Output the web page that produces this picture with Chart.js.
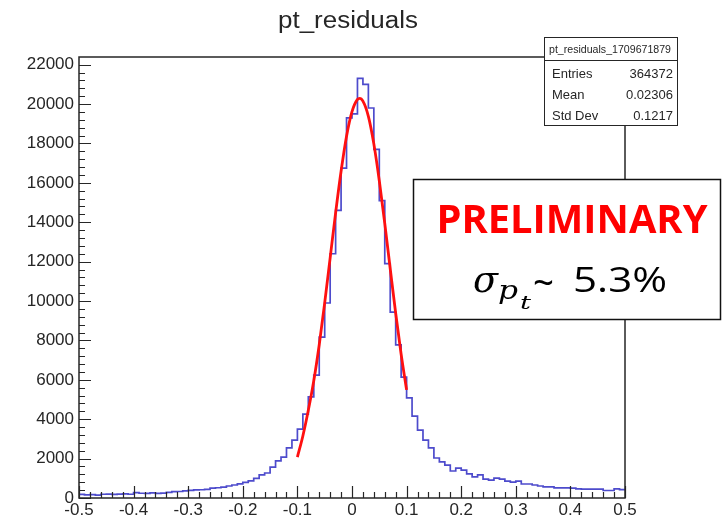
<!DOCTYPE html>
<html>
<head>
<meta charset="utf-8">
<script src="https://cdn.jsdelivr.net/npm/chart.js@4.4.1/dist/chart.umd.min.js"></script>
<style>
  html, body { margin: 0; padding: 0; background: #fff; }
  #wrap { width: 722px; height: 525px; }
</style>
</head>
<body>
<div id="wrap"><canvas id="c" width="722" height="525"></canvas></div>
<script>
'use strict';

// Histograma pt_residuals: 100 bins de 0.01 entre -0.5 y 0.5
const X_MIN = -0.5;
const X_MAX = 0.5;
const BIN_W = 0.01;
const counts = [
  180, 160, 170, 150, 190, 200, 180, 200, 210, 190,
  270, 240, 230, 260, 230, 250, 290, 320, 330, 360,
  390, 410, 420, 440, 500, 520, 550, 610, 660, 720,
  790, 870, 1000, 1170, 1270, 1570, 1880, 2080, 2540, 2940,
  3500, 4260, 5130, 6240, 8170, 9900, 12400, 14600, 16750, 19300,
  19500, 21300, 21000, 19800, 17700, 15100, 11900, 9440, 7770, 6140,
  5080, 4160, 3450, 2940, 2540, 2030, 1830, 1670, 1370, 1520,
  1420, 1220, 1070, 1170, 960, 910, 1010, 960, 860, 810,
  860, 710, 710, 660, 610, 560, 560, 510, 510, 510,
  500, 460, 450, 450, 450, 450, 380, 380, 460, 430,
];

// Ajuste gaussiano (curva roja)
const fitX = [-0.10, -0.09, -0.08, -0.07, -0.06, -0.05, -0.04, -0.03, -0.02, -0.01,
              0.00, 0.01, 0.014, 0.02, 0.03, 0.04, 0.05, 0.06, 0.07, 0.08, 0.09, 0.10];
const fitY = [2080, 3150, 4450, 5950, 7780, 9910, 12190, 14480, 16590, 18370,
              19620, 20240, 20290, 20150, 19380, 17980, 16110, 13940, 11640, 9380, 7300, 5490];

// Marcas de los ejes
const yTickValues = [0, 2000, 4000, 6000, 8000, 10000, 12000, 14000, 16000, 18000, 20000, 22000];
const xTickValues = [-0.5, -0.4, -0.3, -0.2, -0.1, 0, 0.1, 0.2, 0.3, 0.4, 0.5];

const Y_MAX = 22390;
const TITLE = 'pt_residuals';
const STATS_NAME = 'pt_residuals_1709671879';
const statsLabels = ['Entries', 'Mean', 'Std Dev'];
const statsValues = ['364372', '0.02306', '0.1217'];

const BLUE = '#4d4bcc';
const RED  = '#ff1010';
const INK  = '#262626';
const SANS = "'Liberation Sans', Arial, sans-serif";

// puntos del histograma (escalón en el borde inferior de cada bin)
const histPts = counts.map((c, i) => ({ x: X_MIN + i * BIN_W, y: c }));
histPts.push({ x: X_MAX, y: counts[counts.length - 1] });
const fitPts = fitX.map((x, i) => ({ x, y: fitY[i] }));

// texto con ancho forzado (la captura original está algo estirada)
function fitText(ctx, txt, x, y, w, font, align) {
  ctx.save();
  ctx.font = font;
  const nat = ctx.measureText(txt).width;
  const sx = w / nat;
  let x0 = x;
  if (align === 'center') x0 = x - w / 2;
  else if (align === 'right') x0 = x - w;
  ctx.translate(x0, y);
  ctx.scale(sx, 1);
  ctx.textAlign = 'left';
  ctx.fillText(txt, 0, 0);
  ctx.restore();
}

const rootFrame = {
  id: 'rootFrame',
  afterDatasetsDraw(chart) {
    const { ctx, chartArea: a, scales: { x, y } } = chart;
    ctx.save();
    ctx.strokeStyle = INK;
    ctx.lineWidth = 1.5;
    ctx.strokeRect(a.left, a.top, a.right - a.left, a.bottom - a.top);
    ctx.lineWidth = 1.2;
    ctx.beginPath();
    for (let i = 0; i * 400 <= Y_MAX; i++) {
      const py = Math.round(y.getPixelForValue(i * 400)) + 0.5;
      const len = i % 5 === 0 ? 12 : 6;
      ctx.moveTo(a.left, py); ctx.lineTo(a.left + len, py);
    }
    for (let i = 0; i <= 50; i++) {
      const px = Math.round(x.getPixelForValue(X_MIN + i * 0.02)) + 0.5;
      const len = i % 5 === 0 ? 12 : 6;
      ctx.moveTo(px, a.bottom); ctx.lineTo(px, a.bottom - len);
    }
    ctx.stroke();
    ctx.restore();
  },
  afterDraw(chart) {
    const ctx = chart.ctx;
    ctx.save();
    ctx.fillStyle = INK;
    ctx.textBaseline = 'alphabetic';
    // título
    fitText(ctx, TITLE, 348, 28, 140, `23px ${SANS}`, 'center');

    // caja de estadísticas
    ctx.fillStyle = '#fff';
    ctx.fillRect(544, 37, 133, 88);
    ctx.strokeStyle = INK;
    ctx.lineWidth = 1;
    ctx.strokeRect(544.5, 37.5, 133, 88);
    ctx.beginPath();
    ctx.moveTo(544.5, 60.5); ctx.lineTo(677.5, 60.5);
    ctx.stroke();
    ctx.fillStyle = INK;
    fitText(ctx, STATS_NAME, 610, 53, 122, `10px ${SANS}`, 'center');
    statsLabels.forEach((lab, i) => {
      const by = 78 + i * 21;
      ctx.font = `13px ${SANS}`;
      ctx.textAlign = 'left';
      ctx.fillText(lab, 552, by);
      ctx.textAlign = 'right';
      ctx.fillText(statsValues[i], 673, by);
    });

    // recuadro PRELIMINARY
    ctx.fillStyle = '#fff';
    ctx.fillRect(413, 179, 308, 141);
    ctx.strokeStyle = '#111';
    ctx.lineWidth = 1.5;
    ctx.strokeRect(413.5, 179.5, 307, 140);
    ctx.fillStyle = '#ff0000';
    fitText(ctx, 'PRELIMINARY', 572, 233, 271, `bold 40px 'Open Sans', sans-serif`, 'center');
    ctx.fillStyle = '#000';
    fitText(ctx, 'σ', 473, 292, 25, `italic 38px 'DejaVu Serif', serif`, 'left');
    fitText(ctx, 'p', 498, 299, 20, `italic 26px 'DejaVu Serif', serif`, 'left');
    fitText(ctx, 't', 520, 309, 11, `italic 19px 'DejaVu Serif', serif`, 'left');
    fitText(ctx, '~', 533, 297, 21, `42px 'Open Sans', sans-serif`, 'left');
    fitText(ctx, '5.3%', 573, 292, 94, `35px 'Open Sans', sans-serif`, 'left');
    ctx.restore();
  },
};

new Chart(document.getElementById('c'), {
  type: 'line',
  data: {
    datasets: [
      { data: histPts, stepped: true, borderColor: BLUE, borderWidth: 1.7,
        pointRadius: 0, fill: false, order: 2 },
      { data: fitPts, borderColor: RED, borderWidth: 2.8, pointRadius: 0, fill: false,
        cubicInterpolationMode: 'monotone', order: 1 },
    ],
  },
  options: {
    responsive: false, animation: false,
    layout: { padding: { top: 57, right: 97, left: 0, bottom: 0 } },
    plugins: { legend: { display: false }, tooltip: { enabled: false }, title: { display: false } },
    scales: {
      x: {
        type: 'linear', min: X_MIN, max: X_MAX,
        grid: { display: false, drawTicks: false }, border: { display: false },
        ticks: {
          maxRotation: 0, padding: 2, color: INK,
          font: { family: SANS, size: 17 },
          callback: v => String(Math.round(v * 10) / 10),
        },
        afterBuildTicks: s => { s.ticks = xTickValues.map(v => ({ value: v })); },
        afterFit: s => { s.height = 27; },
      },
      y: {
        min: 0, max: Y_MAX,
        grid: { display: false, drawTicks: false }, border: { display: false },
        ticks: { padding: 5, color: INK, font: { family: SANS, size: 17 },
                 callback: v => String(v) },
        afterBuildTicks: s => { s.ticks = yTickValues.map(v => ({ value: v })); },
        afterFit: s => { s.width = 79; },
      },
    },
  },
  plugins: [rootFrame],
});
</script>
</body>
</html>
